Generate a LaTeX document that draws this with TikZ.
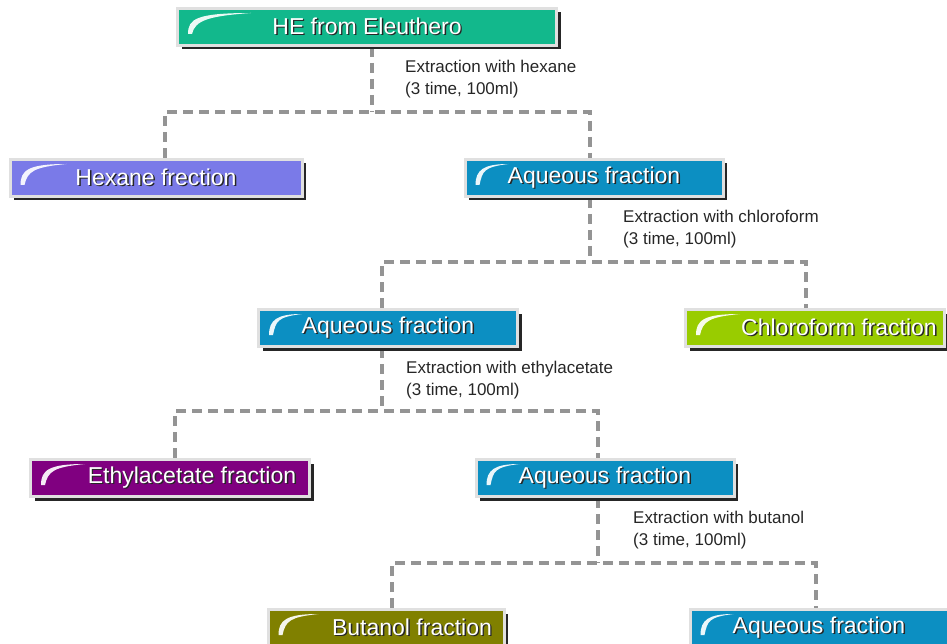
\documentclass[tikz,border=0pt]{standalone}
\usepackage{fontspec}
\setmainfont{Liberation Sans}
\usetikzlibrary{shadows, backgrounds}
\definecolor{heGreen}{RGB}{18,184,140}
\definecolor{hexBlue}{RGB}{122,122,232}
\definecolor{aqBlue}{RGB}{12,143,194}
\definecolor{chlGreen}{RGB}{153,204,0}
\definecolor{ethPurple}{RGB}{128,0,128}
\definecolor{butOlive}{RGB}{128,128,0}
\newcommand{\boxtxt}[2][0pt]{\hspace*{#1}\makebox[0pt][l]{\hspace{1.4pt}\raisebox{-1.4pt}{\color{black!85}#2}}{\color{white}#2}}

\begin{document}
\begin{tikzpicture}[x=1pt, y=-1pt,
		fr/.style={draw=black!12, line width=3pt, minimum height=37pt, inner sep=0pt,
			font=\fontsize{23}{26}\selectfont,
			drop shadow={shadow xshift=4pt, shadow yshift=-4pt, fill=black!85, opacity=1}},
		swoosh/.style={fill=white, opacity=.92},
		link/.style={draw=black!42, line width=3.2pt, dash pattern=on 10pt off 6pt},
		note/.style={anchor=west, align=left, inner sep=0pt, text=black!85, font=\fontsize{17}{22}\selectfont}]
		\useasboundingbox (0,0) rectangle (947,644);
		\clip (0,0) rectangle (947,644);
		% fraction boxes
		\node[fr, fill=heGreen, minimum width=379pt] at (367,27) (he) {\boxtxt{HE from Eleuthero}};
		\node[fr, fill=hexBlue, minimum width=292pt] at (156,178) (hex) {\boxtxt{Hexane frection}};
		\node[fr, fill=aqBlue, minimum width=258pt] at (594,178) (aq1) {\boxtxt{Aqueous fraction}};
		\node[fr, fill=aqBlue, minimum width=259pt] at (388,328) (aq2) {\boxtxt{Aqueous fraction}};
		\node[fr, fill=chlGreen, minimum width=259pt] at (815,328) (chl) {\boxtxt[48pt]{Chloroform fraction}};
		\node[fr, fill=ethPurple, minimum width=279pt] at (170,478) (eth) {\boxtxt[44pt]{Ethylacetate fraction}};
		\node[fr, fill=aqBlue, minimum width=258pt] at (605,478) (aq3) {\boxtxt{Aqueous fraction}};
		\node[fr, fill=butOlive, minimum width=236pt] at (386,628) (but) {\boxtxt[52pt]{Butanol fraction}};
		\node[fr, fill=aqBlue, minimum width=258pt] at (819,628) (aq4) {\boxtxt{Aqueous fraction}};
		% highlight in the corner of each box
		\foreach \b/\w in {he/75,hex/58,aq1/45,aq2/45,chl/56,eth/56,aq3/45,but/52,aq4/45}
		{
			\begin{scope}[shift={(\b.north west)}]
				\fill[swoosh] (12,27) .. controls (12,12) and (20,6) .. (\w,6) .. controls ({0.45*\w},9) and (19,13) .. (16,27) -- cycle;
			\end{scope}
		}
		% extraction notes
		\node[note] at (405,79) (t1) {Extraction with hexane\\(3 time, 100ml)};
		\node[note] at (623,229) (t2) {Extraction with chloroform\\(3 time, 100ml)};
		\node[note] at (406,380) (t3) {Extraction with ethylacetate\\(3 time, 100ml)};
		\node[note] at (633,530) (t4) {Extraction with butanol\\(3 time, 100ml)};
		% splits
		\coordinate (j1) at (372,112);
		\coordinate (j1l) at (165,112);
		\coordinate (j1r) at (590,112);
		\coordinate (j2) at (590,262);
		\coordinate (j2l) at (382,262);
		\coordinate (j2r) at (806,262);
		\coordinate (j3) at (382,411);
		\coordinate (j3l) at (175,411);
		\coordinate (j3r) at (598,411);
		\coordinate (j4) at (598,563);
		\coordinate (j4l) at (392,563);
		\coordinate (j4r) at (816,563);
		\begin{scope}[on background layer]
		\draw[link] (he.south -| j1) -- (j1);
		\draw[link] (hex.north -| j1l) -- (j1l) -- (j1r) -- (aq1.north -| j1r);
		\draw[link] (aq1.south -| j2) -- (j2);
		\draw[link] (aq2.north -| j2l) -- (j2l) -- (j2r) -- (chl.north -| j2r);
		\draw[link] (aq2.south -| j3) -- (j3);
		\draw[link] (eth.north -| j3l) -- (j3l) -- (j3r) -- (aq3.north -| j3r);
		\draw[link] (aq3.south -| j4) -- (j4);
		\draw[link] (but.north -| j4l) -- (j4l) -- (j4r) -- (aq4.north -| j4r);
		\end{scope}
		\end{tikzpicture}
\end{document}
